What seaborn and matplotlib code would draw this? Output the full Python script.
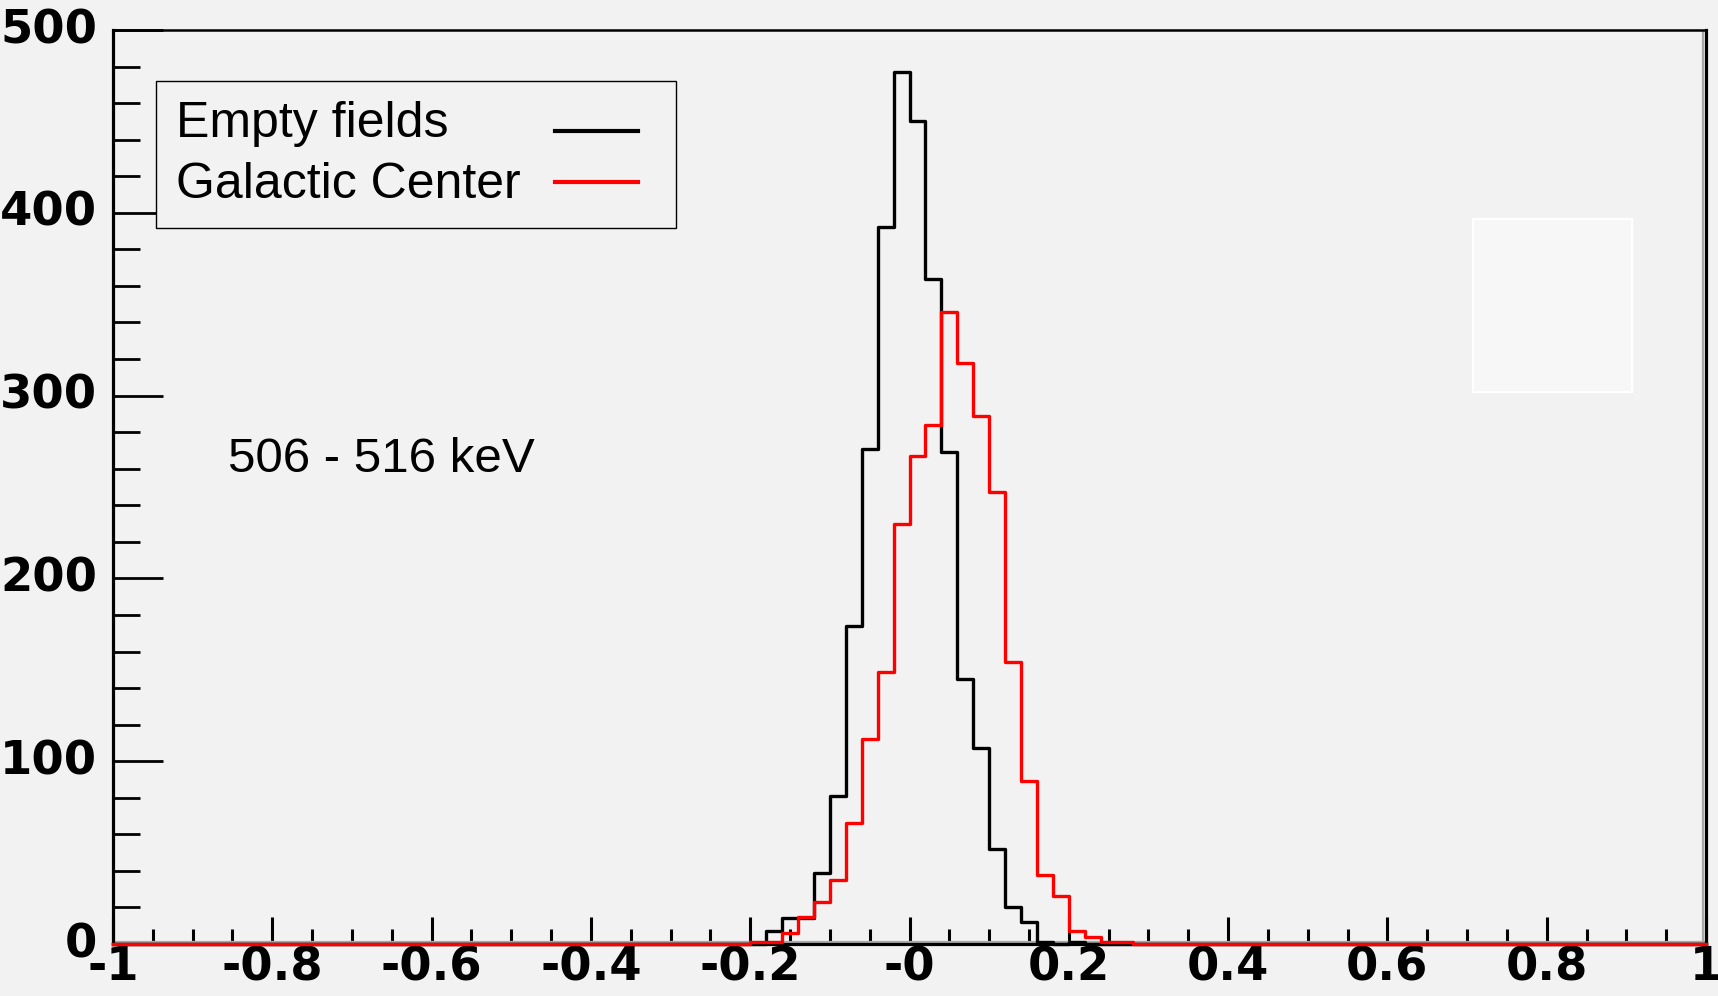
import numpy as np
import pandas as pd
import matplotlib
matplotlib.use("Agg")
import matplotlib.pyplot as plt
import matplotlib.transforms as mtransforms
from matplotlib.patches import Rectangle
from matplotlib.ticker import MultipleLocator
from matplotlib.font_manager import FontProperties
import seaborn as sns

# Histogram binning: 100 bins of width 0.02 on [-1, 1]
n_bins = 100
x_range = (-1.0, 1.0)
bin_width = (x_range[1] - x_range[0]) / n_bins
bin_centers = x_range[0] + bin_width * (np.arange(n_bins) + 0.5)

# Counts of the non-empty bins, starting at the given left edge
empty_fields_first_edge = -0.18
empty_fields_counts = [7, 14, 14, 39, 81, 174, 271, 392, 477, 450,
                       364, 269, 145, 107, 52, 20, 12, 1, 0, 1]

galactic_center_first_edge = -0.20
galactic_center_counts = [1, 1, 6, 15, 23, 35, 66, 112, 149, 230, 267, 284,
                          346, 318, 289, 247, 154, 89, 38, 26, 7, 4, 1, 1]

series_labels = ["Empty fields", "Galactic Center"]
series_colors = ["black", "red"]

x_tick_values = [-1.0, -0.8, -0.6, -0.4, -0.2, 0.0, 0.2, 0.4, 0.6, 0.8, 1.0]
x_tick_labels = ["-1", "-0.8", "-0.6", "-0.4", "-0.2", "-0", "0.2", "0.4", "0.6", "0.8", "1"]
y_tick_values = [0, 100, 200, 300, 400, 500]
y_tick_labels = ["0", "100", "200", "300", "400", "500"]

energy_band = "506 - 516 keV"


def full_counts(first_edge, counts):
    full = np.zeros(n_bins)
    start = int(round((first_edge - x_range[0]) / bin_width))
    full[start:start + len(counts)] = counts
    return full


frames = []
for label, first, counts in [
    (series_labels[0], empty_fields_first_edge, empty_fields_counts),
    (series_labels[1], galactic_center_first_edge, galactic_center_counts),
]:
    frames.append(pd.DataFrame({"x": bin_centers,
                                "w": full_counts(first, counts),
                                "sample": label}))
df = pd.concat(frames, ignore_index=True)

DPI = 100
bg = "#f2f2f2"
fig = plt.figure(figsize=(17.18, 9.96), dpi=DPI, facecolor=bg)
ax = fig.add_axes([113 / 1718, 1 - 944 / 996, (1706 - 113) / 1718, (944 - 30) / 996])
ax.set_facecolor(bg)

for label, color in zip(series_labels, series_colors):
    sns.histplot(data=df[df["sample"] == label], x="x", weights="w",
                 bins=n_bins, binrange=x_range, element="step", fill=False,
                 color=color, linewidth=2.4, label=label, ax=ax)

for ln in ax.lines:
    ln.set_zorder(3)
    ln.set_clip_on(False)
hist_lines = list(ax.lines)

ax.set_xlim(*x_range)
ax.set_ylim(0, 500)
ax.set_xlabel("")
ax.set_ylabel("")

# Frame: inner grey shadow line along bottom and right edges
shadow_kw = dict(color="#a8a8a8", linewidth=1.6, zorder=1.8)
hl = ax.axhline(0, **shadow_kw)
hl.set_transform(hl.get_transform() +
                 mtransforms.ScaledTranslation(0, 2.4 / DPI, fig.dpi_scale_trans))
vl = ax.axvline(1, **shadow_kw)
vl.set_transform(vl.get_transform() +
                 mtransforms.ScaledTranslation(-3.0 / DPI, 0, fig.dpi_scale_trans))

for side in ["left", "bottom", "right"]:
    ax.spines[side].set_linewidth(2.3)
    ax.spines[side].set_color("black")
ax.spines["top"].set_linewidth(1.8)
ax.spines["top"].set_color("black")

tick_font = FontProperties(family="DejaVu Sans", weight="bold", size=33.5)

ax.set_xticks(x_tick_values)
ax.set_xticklabels(x_tick_labels, fontproperties=tick_font)
ax.xaxis.set_minor_locator(MultipleLocator(0.05))
ax.set_yticks(y_tick_values)
ax.set_yticklabels(y_tick_labels, fontproperties=tick_font)
ax.yaxis.set_minor_locator(MultipleLocator(20))

ax.tick_params(axis="x", which="major", direction="in", length=19.4, width=2.2,
               pad=1, top=False, bottom=True)
ax.tick_params(axis="x", which="minor", direction="in", length=10.8, width=2.2,
               top=False, bottom=True)
ax.tick_params(axis="y", which="major", direction="in", length=36, width=2.0,
               pad=11.5, left=True, right=False)
ax.tick_params(axis="y", which="minor", direction="in", length=19.4, width=2.0,
               left=True, right=False)

y_shift = mtransforms.ScaledTranslation(0, 4.5 / DPI, fig.dpi_scale_trans)
for lbl in ax.get_yticklabels():
    lbl.set_transform(lbl.get_transform() + y_shift)

# Empty statistics box
ax.add_patch(Rectangle((0.854, 0.604), 0.0995, 0.189, transform=ax.transAxes,
                       facecolor="#f7f7f7", edgecolor="white", linewidth=1.6,
                       zorder=1))

text_size = 36
text_font = FontProperties(family="Liberation Sans", size=text_size)
text_gap = 0.68

leg = ax.legend(handles=hist_lines, labels=series_labels,
                loc="upper left", bbox_to_anchor=(156 / 1718, 1 - 81 / 996),
                bbox_transform=fig.transFigure, borderaxespad=0,
                markerfirst=False, frameon=True, fancybox=False,
                edgecolor="black", facecolor=bg, framealpha=1,
                prop=text_font, handlelength=2.024, handletextpad=text_gap,
                borderpad=0.40, labelspacing=0.30)
leg.get_frame().set_linewidth(1.0)
# Line samples: shorter than their slot, and set lower in the rows
handle_drop = [8.3, 1.0]
for h, drop in zip(leg.legend_handles, handle_drop):
    h.set_linewidth(3.0)
    xd = np.asarray(h.get_xdata(), dtype=float)
    yd = np.asarray(h.get_ydata(), dtype=float)
    h.set_xdata(np.linspace(xd[0], xd[-1] - 12.6, len(xd)))
    h.set_ydata(yd - drop)

# Left-align the labels while keeping the line samples in one column on the right
fig.canvas.draw()
renderer = fig.canvas.get_renderer()
widths = [t.get_window_extent(renderer).width for t in leg.get_texts()]
max_w = max(widths)
items = [hp for col in leg._legend_handle_box.get_children() for hp in col.get_children()]
for hp, w in zip(items, widths):
    hp.sep = text_gap * text_size + (max_w - w) * 72 / DPI

fig.text(228 / 1718, 1 - 472 / 996, energy_band,
         fontproperties=FontProperties(family="Liberation Sans", size=35.5),
         ha="left", va="baseline")

fig.savefig("out.png", dpi=DPI, facecolor=bg)
